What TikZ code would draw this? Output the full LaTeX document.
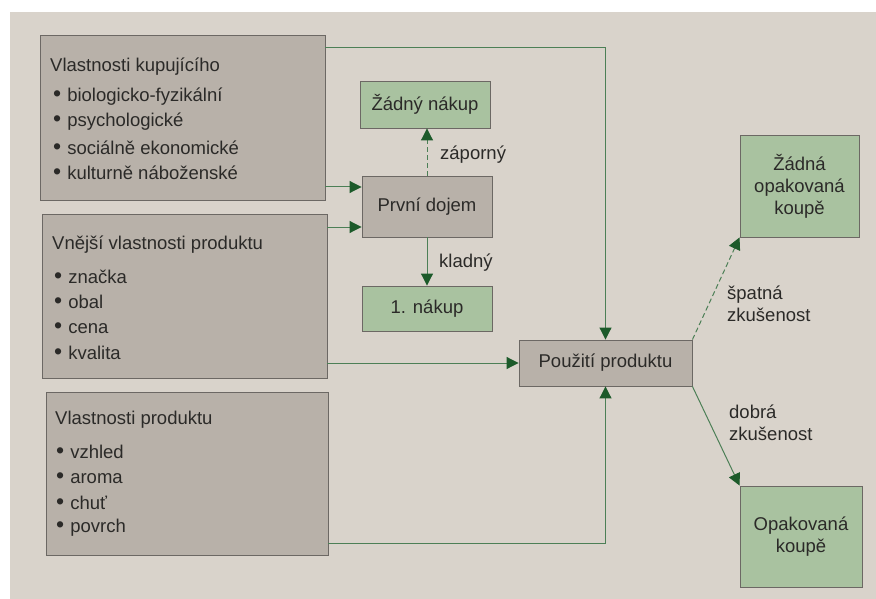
\documentclass[tikz,border=0pt]{standalone}
\usepackage{fontspec}
\setmainfont{Liberation Sans}
\usetikzlibrary{arrows.meta,calc}
\definecolor{pagebg}{HTML}{D9D3CB}
\definecolor{graybox}{HTML}{B8B1A9}
\definecolor{greenbox}{HTML}{A9C2A0}
\definecolor{boxline}{HTML}{6C6864}
\definecolor{conn}{HTML}{4C7F56}
\definecolor{tipc}{HTML}{1C5A2A}
\definecolor{txt}{HTML}{2B2A28}
\newcommand{\bul}{\raisebox{0.5pt}{\scalebox{1.25}{\textbullet}}\hspace{6pt}}
\tikzset{
  fnt/.style={font=\fontsize{18.5}{22}\selectfont},
  gbox/.style={draw=boxline, line width=0.9pt, fill=graybox, inner sep=0pt, text=txt, fnt},
  grbox/.style={draw=boxline, line width=0.9pt, fill=greenbox, inner sep=0pt, align=center, text=txt, fnt},
  lbl/.style={inner sep=0pt, text=txt, fnt},
  itm/.style={anchor=west, inner sep=0pt, text=txt, fnt},
  conline/.style={draw=conn, line width=1pt},
  arr/.style={conline, -{Triangle[length=12pt,width=12pt,fill=tipc,color=tipc]}},
  darr/.style={arr, dash pattern=on 5pt off 3pt}
}
\begin{document}
\begin{tikzpicture}[x=1pt,y=-1pt]
\useasboundingbox (0,0) rectangle (876,599);
\fill[white] (0,0) rectangle (876,599);
\fill[pagebg] (10,12) rectangle (876,599);

% left boxes
\node[gbox, minimum width=285pt, minimum height=165pt] (A) at (182.5,117.5) {};
\node[gbox, minimum width=285pt, minimum height=164pt] (B) at (184.5,296) {};
\node[gbox, minimum width=282pt, minimum height=163pt] (C) at (187,473.5) {};

\node[itm] (a0) at (50,67) {Vlastnosti kupujícího};
\node[itm] (a1) at (53,97) {\bul biologicko-fyzikální};
\node[itm] (a2) at (53,122) {\bul psychologické};
\node[itm] (a3) at (53,148) {\bul sociálně ekonomické};
\node[itm] (a4) at (53,173) {\bul kulturně náboženské};

\node[itm] (b0) at (52,245) {Vnější vlastnosti produktu};
\node[itm] (b1) at (54,277) {\bul značka};
\node[itm] (b2) at (54,302) {\bul obal};
\node[itm] (b3) at (54,328) {\bul cena};
\node[itm] (b4) at (54,353) {\bul kvalita};

\node[itm] (c0) at (55,420) {Vlastnosti produktu};
\node[itm] (c1) at (56,452) {\bul vzhled};
\node[itm] (c2) at (56,478) {\bul aroma};
\node[itm] (c3) at (56,503) {\bul chuť};
\node[itm] (c4) at (56,528) {\bul povrch};

% middle boxes
\node[grbox, minimum width=130pt, minimum height=47pt] (ZN) at (425,104.5) {Žádný nákup};
\node[gbox, minimum width=130pt, minimum height=61pt] (PD) at (427,206.5) {První dojem};
\node[grbox, minimum width=130pt, minimum height=45pt] (N1) at (427,308.5) {1. nákup};
\node[gbox, minimum width=173pt, minimum height=46pt] (P) at (605.5,363) {Použití produktu};
\node[grbox, minimum width=119pt, minimum height=102pt] (ZOK) at (799.5,186) {Žádná\\opakovaná\\koupě};
\node[grbox, minimum width=122pt, minimum height=101pt] (OK) at (801,536.5) {Opakovaná\\koupě};

% labels
\node[lbl, anchor=west] (lz) at (440,155) {záporný};
\node[lbl, anchor=west] (lk) at (439,263) {kladný};
\node[lbl, anchor=west, align=left] (ls) at (727,304) {špatná\\zkušenost};
\node[lbl, anchor=west, align=left] (ld) at (729,423) {dobrá\\zkušenost};

% connectors
\draw[arr] (A.east |- 0,48) -| (P.north);
\draw[arr] (A.east |- 0,187) -- (PD.west |- 0,187);
\draw[arr] (B.east |- 0,227) -- (PD.west |- 0,227);
\draw[darr] (PD.north) -- (PD.north |- ZN.south);
\draw[arr] (PD.south) -- (N1.north);
\draw[arr] (B.east |- P.west) -- (P.west);
\draw[arr] (C.east |- 0,543) -| (P.south);
\draw[darr] (P.north east) -- (ZOK.south west);
\draw[arr] (P.south east) -- (OK.north west);
\end{tikzpicture}
\end{document}
